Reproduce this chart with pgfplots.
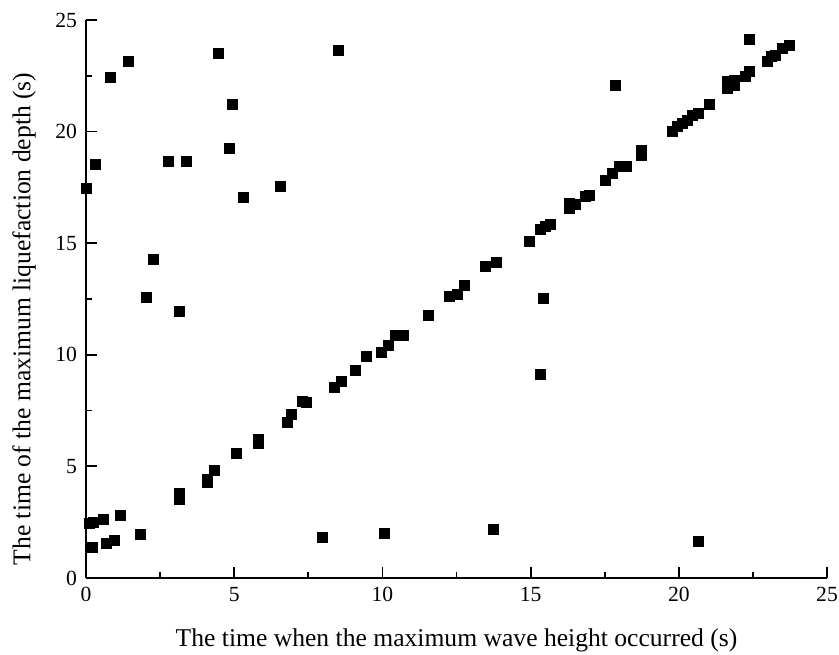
\documentclass[border=0pt]{standalone}
\usepackage{fontspec}
\setmainfont{Liberation Serif}
\usepackage{pgfplots}
\pgfplotsset{compat=1.18}
\begin{document}
\begin{tikzpicture}
\begin{axis}[
  scale only axis,
  width=370.5pt, height=279pt,
  xmin=0, xmax=25, ymin=0, ymax=25,
  axis x line*=bottom, axis y line*=left,
  axis line style={line width=1pt},
  xtick={0,5,...,25}, ytick={0,5,...,25},
  minor tick num=1,
  tick align=inside,
  major tick length=5.5pt, minor tick length=3pt,
  every tick/.style={line width=0.9pt, black},
  tick label style={font=\fontsize{10.8}{12}\selectfont},
  /pgf/number format/assume math mode=true,
  xticklabel style={yshift=-1pt},
  yticklabel style={xshift=-1pt},
  xlabel={The time when the maximum wave height occurred (s)},
  ylabel={The time of the maximum liquefaction depth (s)},
  label style={font=\fontsize{12.8}{15}\selectfont},
  xlabel style={at={(axis description cs:0.5,0)}, anchor=center, yshift=-31pt},
  ylabel style={at={(axis description cs:0,0.5)}, anchor=center, yshift=31pt, xshift=-10pt},
]
\addplot[only marks, mark=square*, mark size=2.5pt, black] coordinates {
(0, 17.44) (0.33, 18.51) (0.81, 22.43) (1.43, 23.15) (2.78, 18.65) (3.39, 18.65)
(4.47, 23.50) (4.94, 21.20) (4.84, 19.26) (5.32, 17.06) (6.55, 17.56) (8.51, 23.62)
(2.27, 14.27) (2.04, 12.55) (3.14, 11.95)
(0.12, 2.45) (0.25, 2.47) (0.20, 1.39) (0.57, 2.63) (0.70, 1.57) (0.95, 1.69)
(1.17, 2.81) (1.82, 1.96) (3.14, 3.78) (3.14, 3.53) (4.11, 4.42) (4.11, 4.26)
(4.34, 4.80) (5.07, 5.59) (5.80, 6.20) (5.80, 6.02) (6.79, 6.98) (6.93, 7.32)
(7.30, 7.92) (7.43, 7.88) (8.37, 8.53) (8.60, 8.80) (9.10, 9.32) (9.46, 9.92)
(9.97, 10.12) (10.20, 10.43) (10.43, 10.85) (10.70, 10.85) (11.54, 11.78)
(12.26, 12.60) (12.54, 12.72) (12.77, 13.09) (13.49, 13.94) (13.85, 14.14)
(14.95, 15.10) (15.34, 15.61) (15.51, 15.73) (15.68, 15.85) (15.43, 12.52)
(15.32, 9.13) (7.99, 1.81) (10.07, 1.99) (13.74, 2.17) (20.67, 1.66)
(16.30, 16.56) (16.30, 16.78) (16.52, 16.75) (16.86, 17.08) (17.00, 17.12)
(17.51, 17.80) (17.76, 18.13) (17.98, 18.42) (18.23, 18.42) (17.87, 22.05)
(18.74, 18.95) (18.74, 19.17) (19.80, 19.99) (19.94, 20.25) (20.11, 20.37)
(20.28, 20.52) (20.45, 20.74) (20.67, 20.82) (21.03, 21.23) (21.63, 21.94)
(21.63, 22.23) (21.89, 22.08) (21.89, 22.31) (22.25, 22.46) (22.38, 22.71)
(22.38, 24.13) (23.00, 23.13) (23.14, 23.35) (23.25, 23.43) (23.48, 23.73)
(23.73, 23.88)
};
\coordinate (bl) at (rel axis cs:-0.1161,-0.138);
\coordinate (tr) at (rel axis cs:1.0162,1.0358);
\end{axis}
\pgfresetboundingbox
\useasboundingbox (bl) rectangle (tr);
\end{tikzpicture}
\end{document}
